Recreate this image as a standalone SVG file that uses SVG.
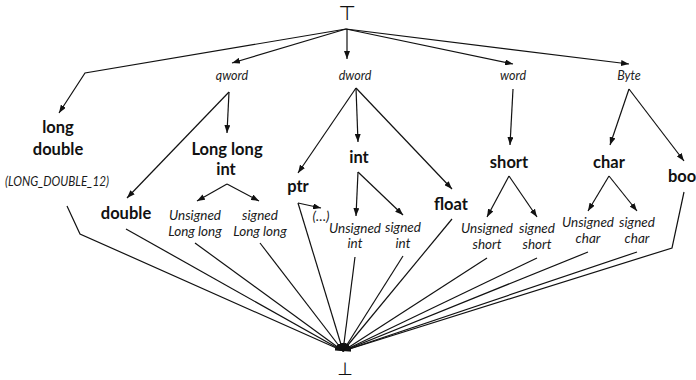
<svg xmlns="http://www.w3.org/2000/svg" width="696" height="380" viewBox="0 0 696 380">
<style>
.b{font-family:Lato,"Open Sans",sans-serif;font-weight:bold;font-size:16.5px;fill:#111;text-anchor:middle}
.i{font-family:Lato,"Open Sans",sans-serif;font-style:italic;font-size:13.5px;fill:#1a1a1a;text-anchor:middle}
.s{font-family:Lato,"Open Sans",sans-serif;font-style:italic;font-size:12.5px;fill:#222;text-anchor:middle}
.m{font-family:"DejaVu Sans",sans-serif;fill:#111;text-anchor:middle}
.c line,.c polyline{stroke:#111;stroke-width:1.2;fill:none}
</style>
<defs>
<marker id="a" markerWidth="8" markerHeight="6" refX="8" refY="3" orient="auto" markerUnits="userSpaceOnUse"><path d="M0,0 L8,3 L0,6 z" fill="#111"/></marker>
</defs>
<rect width="696" height="380" fill="#fff"/>
<g class="c" id="connectors">
<polyline points="346,29 85,73 59,113" marker-end="url(#a)"/>
<line x1="346" y1="29" x2="232" y2="63" marker-end="url(#a)"/>
<line x1="347" y1="29" x2="347" y2="59" marker-end="url(#a)"/>
<line x1="346" y1="29" x2="513" y2="64" marker-end="url(#a)"/>
<line x1="346" y1="29" x2="629" y2="64" marker-end="url(#a)"/>
<line x1="229" y1="92" x2="127" y2="198" marker-end="url(#a)"/>
<line x1="229" y1="92" x2="227" y2="133" marker-end="url(#a)"/>
<line x1="227" y1="184" x2="197" y2="201" marker-end="url(#a)"/>
<line x1="227" y1="184" x2="259" y2="201" marker-end="url(#a)"/>
<line x1="356" y1="88" x2="298" y2="173" marker-end="url(#a)"/>
<line x1="356" y1="88" x2="358" y2="142" marker-end="url(#a)"/>
<line x1="356" y1="88" x2="452" y2="189" marker-end="url(#a)"/>
<line x1="298" y1="203" x2="321" y2="208" marker-end="url(#a)"/>
<line x1="358" y1="172" x2="356" y2="216" marker-end="url(#a)"/>
<line x1="358" y1="172" x2="403" y2="215" marker-end="url(#a)"/>
<line x1="513" y1="89" x2="510" y2="145" marker-end="url(#a)"/>
<line x1="509" y1="176" x2="487" y2="217" marker-end="url(#a)"/>
<line x1="509" y1="176" x2="537" y2="217" marker-end="url(#a)"/>
<line x1="629" y1="89" x2="610" y2="145" marker-end="url(#a)"/>
<line x1="629" y1="89" x2="684" y2="161" marker-end="url(#a)"/>
<line x1="609" y1="176" x2="588" y2="211" marker-end="url(#a)"/>
<line x1="609" y1="176" x2="637" y2="211" marker-end="url(#a)"/>
<polyline points="67,206 80,234 343,351" marker-end="url(#a)"/>
<line x1="126" y1="229" x2="343" y2="351" marker-end="url(#a)"/>
<line x1="195" y1="243" x2="343" y2="351" marker-end="url(#a)"/>
<line x1="260" y1="243" x2="343" y2="351" marker-end="url(#a)"/>
<line x1="298" y1="203" x2="343" y2="351" marker-end="url(#a)"/>
<line x1="355" y1="257" x2="343" y2="351" marker-end="url(#a)"/>
<line x1="403" y1="256" x2="343" y2="351" marker-end="url(#a)"/>
<line x1="452" y1="219" x2="343" y2="351" marker-end="url(#a)"/>
<line x1="487" y1="258" x2="343" y2="351" marker-end="url(#a)"/>
<line x1="537" y1="258" x2="343" y2="351" marker-end="url(#a)"/>
<line x1="588" y1="252" x2="343" y2="351" marker-end="url(#a)"/>
<line x1="637" y1="252" x2="343" y2="351" marker-end="url(#a)"/>
<polyline points="684,192 672,248 343,351" marker-end="url(#a)"/>
</g>
<g id="top"><text class="m" x="347" y="20" font-size="20">⊤</text></g>
<g id="bottom"><text class="m" x="345" y="375" font-size="18">⊥</text></g>
<g id="qword"><text class="s" x="232" y="80">qword</text></g>
<g id="dword"><text class="s" x="355" y="80">dword</text></g>
<g id="word"><text class="s" x="513" y="80">word</text></g>
<g id="byte"><text class="s" x="629" y="80">Byte</text></g>
<g id="longdouble"><text class="b" x="58" y="133">long</text><text class="b" x="58" y="155">double</text><text class="i" x="57" y="186" font-size="12.5" textLength="104" lengthAdjust="spacingAndGlyphs">(LONG_DOUBLE_12)</text></g>
<g id="longlongint"><text class="b" x="227" y="155">Long long</text><text class="b" x="226" y="175">int</text></g>
<g id="double"><text class="b" x="126" y="219">double</text></g>
<g id="ull"><text class="i" x="195" y="220">Unsigned</text><text class="i" x="195" y="236">Long long</text></g>
<g id="sll"><text class="i" x="260" y="220">signed</text><text class="i" x="260" y="236">Long long</text></g>
<g id="ptr"><text class="b" x="298" y="192">ptr</text></g>
<g id="etc"><text class="i" x="321" y="221" font-size="10.5" font-style="normal">(…)</text></g>
<g id="int"><text class="b" x="359" y="163">int</text></g>
<g id="uint"><text class="i" x="355" y="233">Unsigned</text><text class="i" x="355" y="248">int</text></g>
<g id="sint"><text class="i" x="403" y="232">signed</text><text class="i" x="403" y="248">int</text></g>
<g id="float"><text class="b" x="451" y="210">float</text></g>
<g id="short"><text class="b" x="509" y="168">short</text></g>
<g id="ushort"><text class="i" x="487" y="233">Unsigned</text><text class="i" x="487" y="249">short</text></g>
<g id="sshort"><text class="i" x="537" y="233">signed</text><text class="i" x="537" y="249">short</text></g>
<g id="char"><text class="b" x="609" y="168">char</text></g>
<g id="uchar"><text class="i" x="588" y="227">Unsigned</text><text class="i" x="588" y="243">char</text></g>
<g id="schar"><text class="i" x="637" y="227">signed</text><text class="i" x="637" y="243">char</text></g>
<g id="bool"><text class="b" x="668" y="182" style="text-anchor:start">boo</text></g>
</svg>
